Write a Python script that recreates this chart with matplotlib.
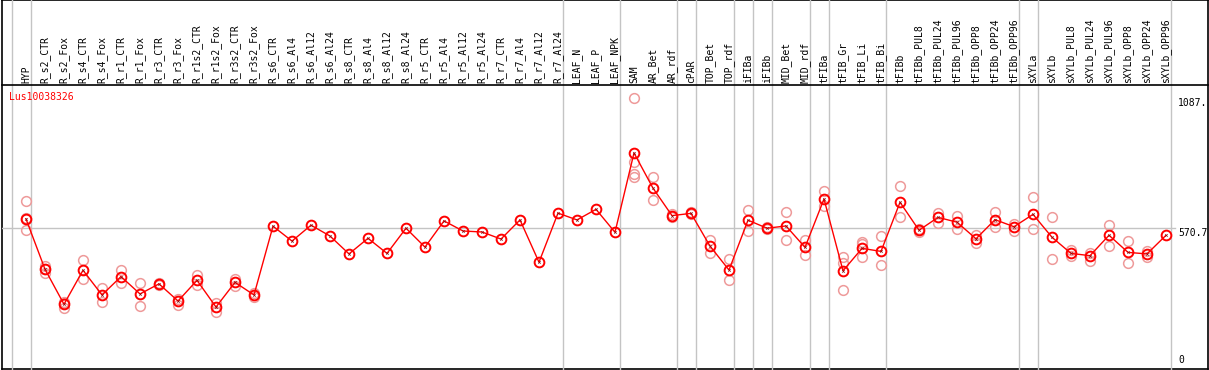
import matplotlib
matplotlib.use("Agg")
import matplotlib.pyplot as plt
from matplotlib.transforms import blended_transform_factory

labels = ["HYP", "R_s2_CTR", "R_s2_Fox", "R_s4_CTR", "R_s4_Fox", "R_r1_CTR", "R_r1_Fox",
          "R_r3_CTR", "R_r3_Fox", "R_r1s2_CTR", "R_r1s2_Fox", "R_r3s2_CTR", "R_r3s2_Fox",
          "R_s6_CTR", "R_s6_Al4", "R_s6_Al12", "R_s6_Al24",
          "R_s8_CTR", "R_s8_Al4", "R_s8_Al12", "R_s8_Al24",
          "R_r5_CTR", "R_r5_Al4", "R_r5_Al12", "R_r5_Al24",
          "R_r7_CTR", "R_r7_Al4", "R_r7_Al12", "R_r7_Al24",
          "LEAF_N", "LEAF_P", "LEAF_NPK", "SAM", "AR_Bet", "AR_rdf", "cPAR",
          "TOP_Bet", "TOP_rdf", "iFIBa", "iFIBb", "MID_Bet", "MID_rdf",
          "tFIBa", "tFIB_Gr", "tFIB_Li", "tFIB_Bi", "tFIBb",
          "tFIBb_PUL8", "tFIBb_PUL24", "tFIBb_PUL96", "tFIBb_OPP8", "tFIBb_OPP24", "tFIBb_OPP96",
          "sXYLa", "sXYLb",
          "sXYLb_PUL8", "sXYLb_PUL24", "sXYLb_PUL96", "sXYLb_OPP8", "sXYLb_OPP24", "sXYLb_OPP96"]

means = [608, 408, 269, 404, 306, 379, 310, 350, 282, 364, 258, 356, 306,
         579, 520, 583, 540, 469, 531, 471, 571, 496, 600, 560, 556, 528, 604, 436, 631,
         604, 646, 555, 870, 730, 621, 630, 500, 405, 603, 571, 580, 495,
         687, 402, 491, 479, 674, 563, 614, 595, 529, 605, 577,
         626, 535, 471, 462, 543, 475, 469, 543]

reps = [[679, 613, 564], [421, 410, 392], [278, 273, 255], [445, 368], [332, 277],
        [405, 355], [352, 261], [353, 346], [290, 266], [385, 346], [275, 237],
        [369, 343], [314, 298],
        [], [], [], [], [], [], [], [], [], [], [], [], [], [], [], [],
        [], [], [],
        [1087, 835, 785, 776], [773, 683], [628, 614], [634, 627],
        [524, 471], [448, 364], [643, 560], [574, 567], [634, 523], [523, 464],
        [719, 659], [458, 434, 326], [518, 508, 458], [540, 424], [738, 616],
        [568, 557], [633, 593], [620, 567], [544, 514], [634, 577], [588, 561],
        [694, 567], [614, 450], [485, 462], [471, 441], [584, 502], [519, 432],
        [482, 456], []]

# last column of each group (grey separators drawn just after them)
group_ends = [-1, 0, 28, 31, 34, 35, 37, 38, 39, 41, 42, 45, 52, 53, 60]

ytick_vals = [1087, 570.7]
ytick_text = ["1087.", "570.7"]
gene = "Lus10038326"

W, H = 1209, 370
mono = "DejaVu Sans Mono"
fig = plt.figure(figsize=(W / 100, H / 100), dpi=100)

def fx(px):
    return px / W

def fy(py):
    return 1 - py / H

frame = fig.add_axes([fx(2), fy(369), fx(1208) - fx(2), fy(0) - fy(369)])
frame.set_xticks([])
frame.set_yticks([])
frame.patch.set_alpha(0)
for s in frame.spines.values():
    s.set_color("black")
    s.set_linewidth(1.2)

ax = fig.add_axes([fx(2), fy(369), fx(1208) - fx(2), fy(85) - fy(369)])
ax.patch.set_alpha(0)
ax.set_xlim(-1.263, 62.21)
ax.set_ylim(11.9, 1139.8)
ax.set_xticks([])
ax.set_yticks([])
for k, s in ax.spines.items():
    s.set_visible(k == "top")
ax.spines["top"].set_linewidth(1.2)

grey = "#c4c4c4"
for e in group_ends:
    ax.axvline(e + 0.25, ymin=0, ymax=369 / 284, color=grey, lw=1.0, clip_on=False, zorder=0)
ax.axhline(570.7, xmin=0, xmax=(1175 - 2) / 1206, color=grey, lw=1.0, zorder=0)

xs = list(range(len(labels)))
for i, r in enumerate(reps):
    if r:
        ax.plot([i] * len(r), r, "o", mfc="none", mec="#ee9a9a", ms=7, mew=1.1, zorder=2)
ax.plot(xs, means, color="red", lw=1, zorder=3)
ax.plot(xs, means, "o", mfc="none", mec="red", ms=7, mew=1.4, zorder=4)
ax.plot(xs, means, "x", color="#8a1010", ms=1.8, mew=0.5, zorder=5)

tr = blended_transform_factory(ax.transData, ax.transAxes)
for i, lab in enumerate(labels):
    ax.text(i, 1 + 2 / 284, lab, rotation=90, ha="center", va="bottom",
            transform=tr, fontsize=7, family=mono, clip_on=False)

ty = blended_transform_factory(ax.transAxes, ax.transData)
for v, t in zip(ytick_vals, ytick_text):
    ax.text((1178 - 2) / 1206, v, t, ha="left", va="top", transform=ty,
            fontsize=7, family=mono, clip_on=False)
ax.text((1178 - 2) / 1206, 0.015, "0", ha="left", va="bottom", transform=ax.transAxes,
        fontsize=7, family=mono)

fig.text(fx(9), fy(97), gene, color="red", ha="left", va="center", fontsize=7, family=mono)

fig.savefig("out.png", dpi=100)
